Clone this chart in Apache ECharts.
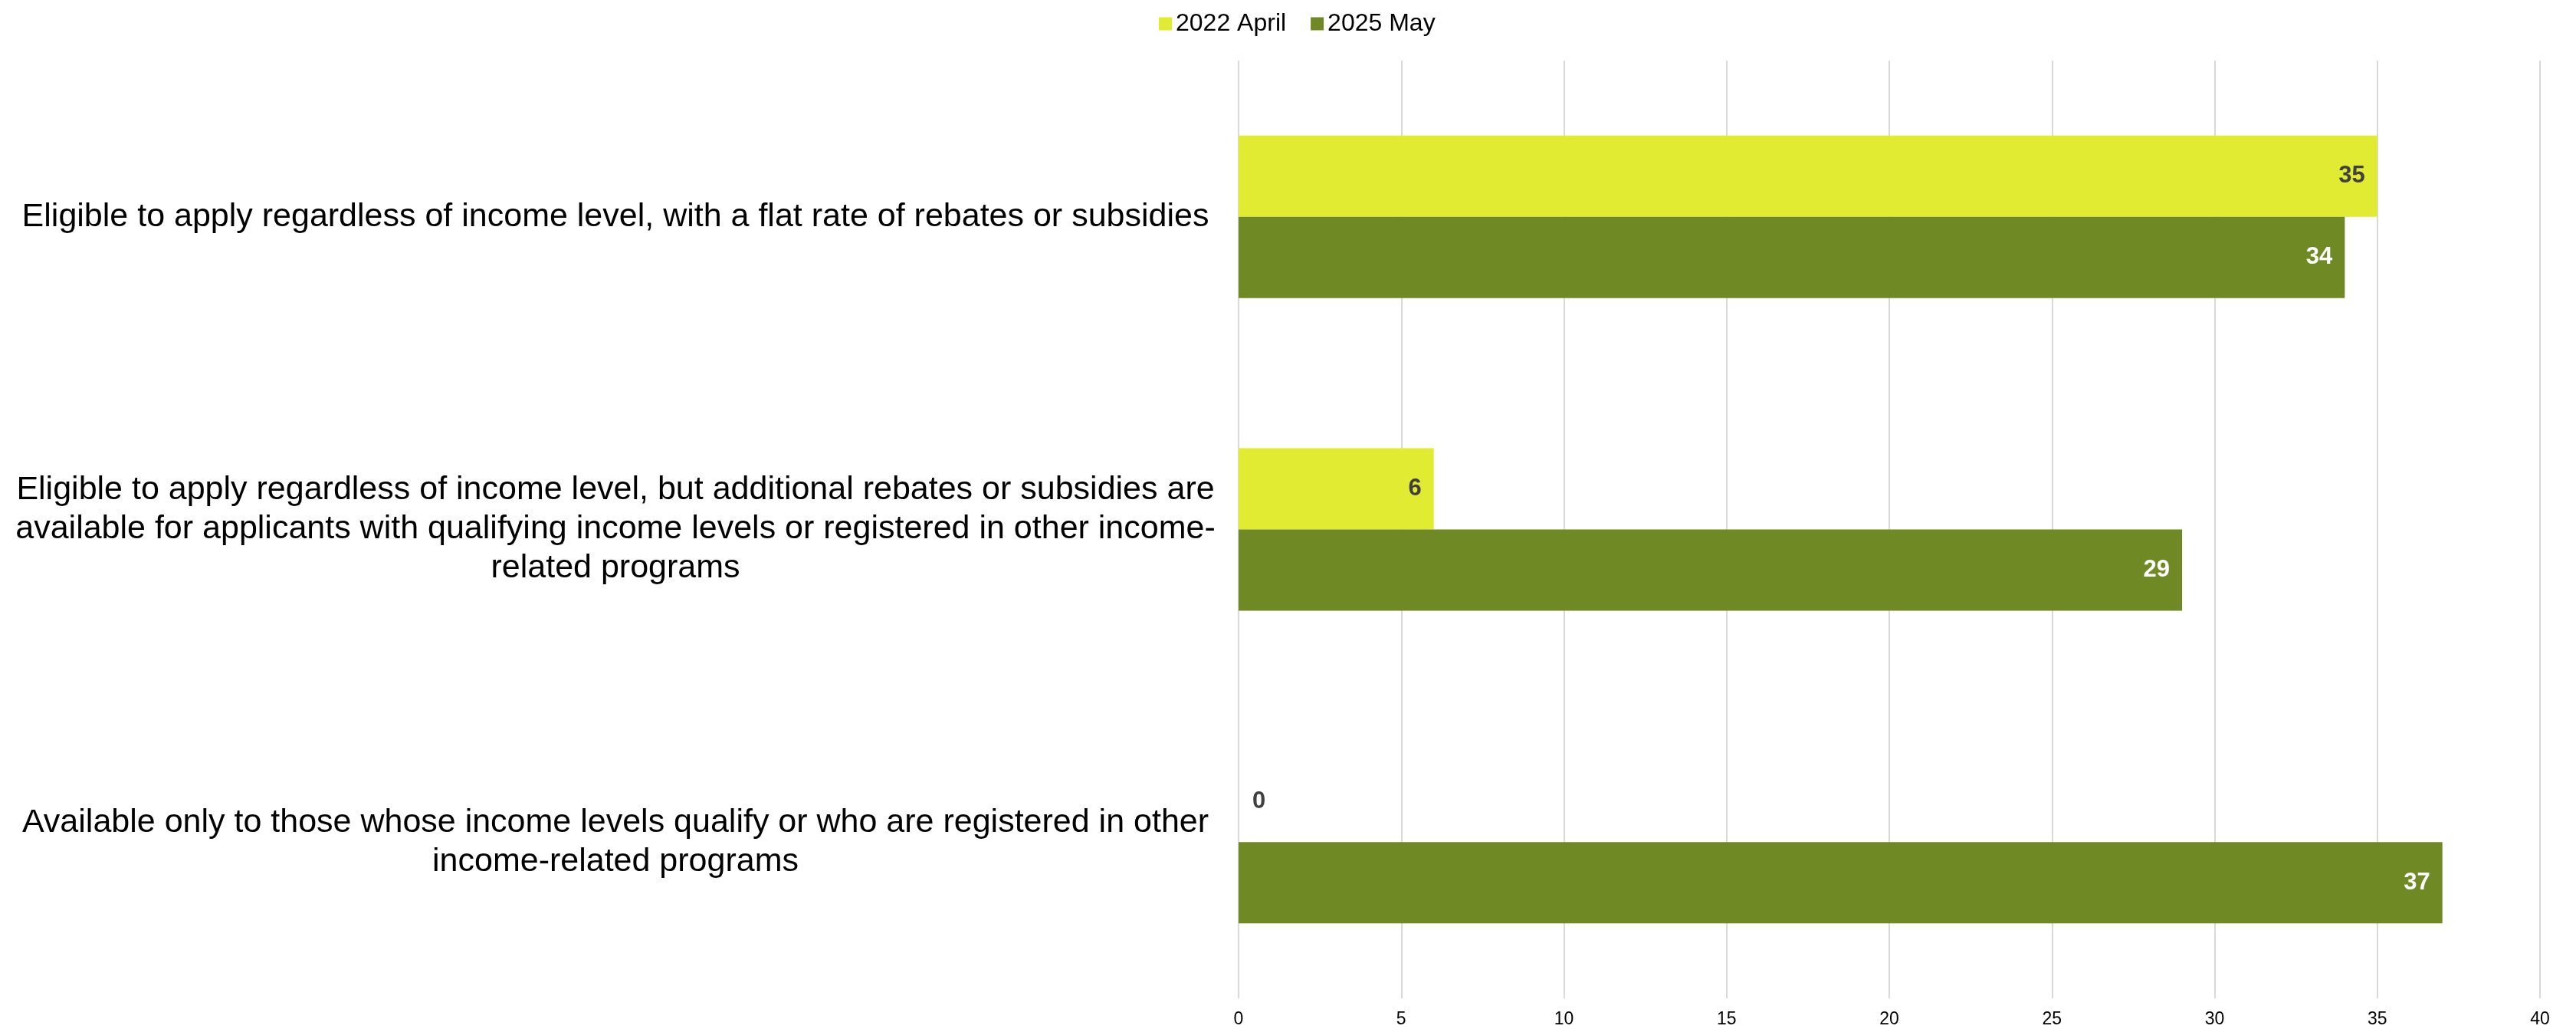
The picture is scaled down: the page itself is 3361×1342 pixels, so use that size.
<!DOCTYPE html>
<html>
<head>
<meta charset="utf-8">
<script src="https://cdn.jsdelivr.net/npm/echarts@6/dist/echarts.min.js"></script>
<style>
html,body{margin:0;padding:0;background:#fff;}
#chart{width:3361px;height:1342px;}
</style>
</head>
<body>
<div id="chart"></div>
<script>
const categories = [
  "Eligible to apply regardless of income level, with a flat rate of rebates or subsidies",
  "Eligible to apply regardless of income level, but additional rebates or subsidies are\navailable for applicants with qualifying income levels or registered in other income-\nrelated programs",
  "Available only to those whose income levels qualify or who are registered in other\nincome-related programs"
];
const seriesNames = ["2022 April", "2025 May"];
const april2022 = [35, 6, 0];
const may2025 = [34, 29, 37];
const xTicks = [0, 5, 10, 15, 20, 25, 30, 35, 40];

const FONT = "'Liberation Sans', Arial, sans-serif";
const YELLOW = "#E1EB32";
const GREEN = "#6F8A25";

function toData(values) {
  return values.map(v => v === 0
    ? { value: v, label: { position: 'right', distance: 18, color: '#404040' } }
    : { value: v });
}

const chart = echarts.init(document.getElementById('chart'), null, { renderer: 'canvas' });
chart.setOption({
  animation: false,
  backgroundColor: '#ffffff',
  textStyle: { fontFamily: FONT },
  legend: {
    top: 10,
    left: 1507,
    itemWidth: 17,
    itemHeight: 17,
    itemGap: 32,
    icon: 'rect',
    textStyle: { fontSize: 32, color: '#000', fontFamily: FONT },
    data: seriesNames
  },
  grid: { left: 1616, right: 47, top: 79, bottom: 40, containLabel: false },
  xAxis: {
    type: 'value',
    min: xTicks[0],
    max: xTicks[xTicks.length - 1],
    interval: 5,
    axisLine: { show: false },
    axisTick: { show: false },
    splitLine: { show: true, lineStyle: { color: '#d9d9d9', width: 2 } },
    axisLabel: { fontSize: 23, color: '#000', margin: 16, fontFamily: FONT }
  },
  yAxis: {
    type: 'category',
    inverse: true,
    data: categories,
    axisLine: { show: false },
    axisTick: { show: false },
    splitLine: { show: false },
    axisLabel: {
      fontSize: 43,
      lineHeight: 51,
      color: '#000',
      align: 'center',
      margin: 813,
      fontFamily: FONT
    }
  },
  series: [
    {
      name: seriesNames[0],
      type: 'bar',
      data: toData(april2022),
      itemStyle: { color: YELLOW },
      barGap: '0%',
      barCategoryGap: '48%',
      label: {
        show: true,
        position: 'insideRight',
        distance: 16,
        color: '#404040',
        fontWeight: 'bold',
        fontSize: 31,
        fontFamily: FONT
      }
    },
    {
      name: seriesNames[1],
      type: 'bar',
      data: toData(may2025),
      itemStyle: { color: GREEN },
      barGap: '0%',
      barCategoryGap: '48%',
      label: {
        show: true,
        position: 'insideRight',
        distance: 16,
        color: '#ffffff',
        fontWeight: 'bold',
        fontSize: 31,
        fontFamily: FONT
      }
    }
  ]
});
</script>
</body>
</html>
